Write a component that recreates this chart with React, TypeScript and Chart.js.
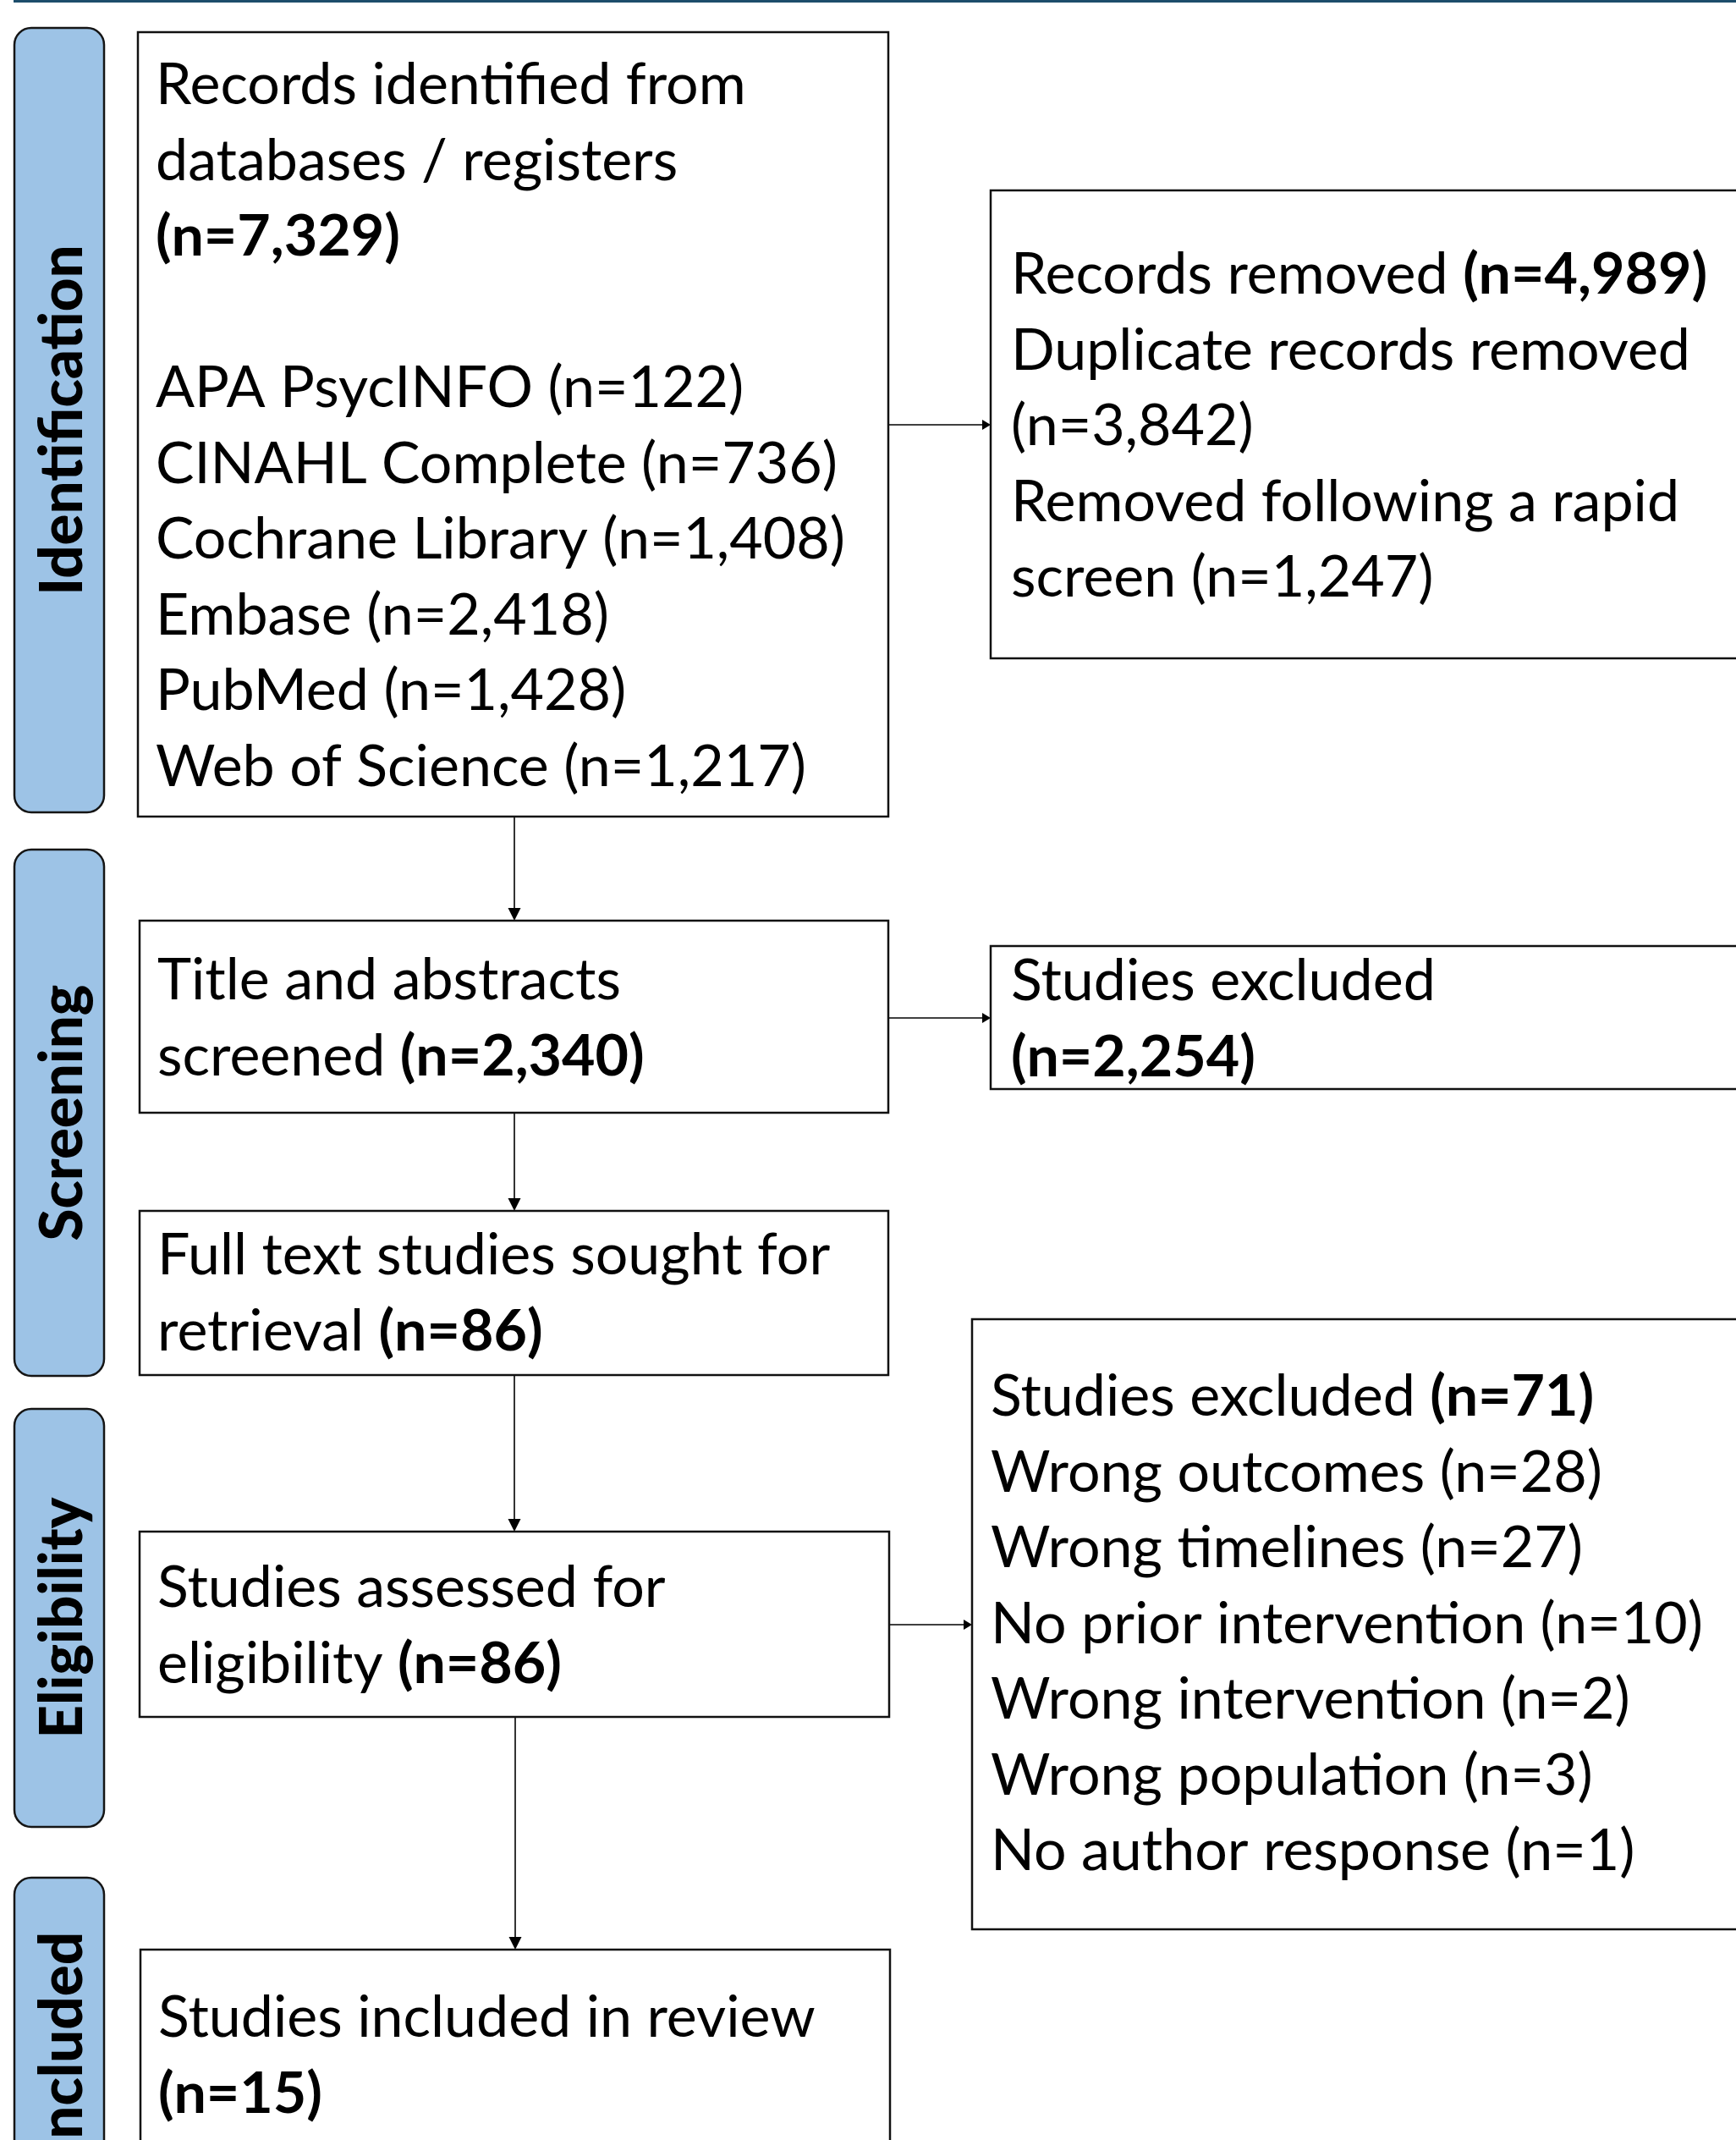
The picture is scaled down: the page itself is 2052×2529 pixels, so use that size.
import React, { useEffect, useRef } from 'react';
import { Chart, registerables } from 'chart.js';

Chart.register(...registerables);

// ---------- DATA ----------
const stageLabels = ['Identification', 'Screening', 'Eligibility', 'Included'];

const identifiedTotal = 7329;
const databaseNames = ['APA PsycINFO', 'CINAHL Complete', 'Cochrane Library', 'Embase', 'PubMed', 'Web of Science'];
const databaseCounts = [122, 736, 1408, 2418, 1428, 1217];

const removedTotal = 4989;
const removalCounts = [3842, 1247]; // duplicates, rapid screen

const screenedTotal = 2340;
const screenExcludedTotal = 2254;
const soughtTotal = 86;
const assessedTotal = 86;

const excludedTotal = 71;
const exclusionReasons = ['Wrong outcomes', 'Wrong timelines', 'No prior intervention', 'Wrong intervention', 'Wrong population', 'No author response'];
const exclusionCounts = [28, 27, 10, 2, 3, 1];

const includedTotal = 15;

// ---------- LAYOUT (diagram units = scale values) ----------
const W = 2052;
const H = 2529;

const fmt = (n: number) => n.toLocaleString('en-US');
type Seg = { t: string; b?: boolean };
type Line = Seg[];

const n = (v: number) => `(n=${fmt(v)})`;

const box1Lines: Line[] = [
  [{ t: 'Records identified from' }],
  [{ t: 'databases / registers' }],
  [{ t: n(identifiedTotal), b: true }],
  [],
  ...databaseNames.map((d, i) => [{ t: `${d} ${n(databaseCounts[i])}` }]),
];
const r1Lines: Line[] = [
  [{ t: 'Records removed ' }, { t: n(removedTotal), b: true }],
  [{ t: 'Duplicate records removed' }],
  [{ t: n(removalCounts[0]) }],
  [{ t: 'Removed following a rapid' }],
  [{ t: `screen ${n(removalCounts[1])}` }],
];
const box2Lines: Line[] = [
  [{ t: 'Title and abstracts' }],
  [{ t: 'screened ' }, { t: n(screenedTotal), b: true }],
];
const r2Lines: Line[] = [
  [{ t: 'Studies excluded' }],
  [{ t: n(screenExcludedTotal), b: true }],
];
const box3Lines: Line[] = [
  [{ t: 'Full text studies sought for' }],
  [{ t: 'retrieval ' }, { t: n(soughtTotal), b: true }],
];
const r3Lines: Line[] = [
  [{ t: 'Studies excluded ' }, { t: n(excludedTotal), b: true }],
  ...exclusionReasons.map((r, i) => [{ t: `${r} ${n(exclusionCounts[i])}` }]),
];
const box4Lines: Line[] = [
  [{ t: 'Studies assessed for' }],
  [{ t: 'eligibility ' }, { t: n(assessedTotal), b: true }],
];
const box5Lines: Line[] = [
  [{ t: 'Studies included in review' }],
  [{ t: n(includedTotal), b: true }],
];

const LINE_H = 89.5;

const boxes = [
  { x0: 163, x1: 1050, y0: 38, y1: 965, tx: 184, ty: 123, lines: box1Lines },
  { x0: 1171, x1: 2120, y0: 225, y1: 778, tx: 1195, ty: 347, lines: r1Lines },
  { x0: 165, x1: 1050, y0: 1088, y1: 1315, tx: 186, ty: 1181, lines: box2Lines },
  { x0: 1171, x1: 2120, y0: 1118, y1: 1287, tx: 1195, ty: 1182, lines: r2Lines },
  { x0: 165, x1: 1050, y0: 1431, y1: 1625, tx: 186, ty: 1506, lines: box3Lines },
  { x0: 1149, x1: 2120, y0: 1559, y1: 2280, tx: 1171, ty: 1673, lines: r3Lines },
  { x0: 165, x1: 1051, y0: 1810, y1: 2029, tx: 186, ty: 1899, lines: box4Lines },
  { x0: 166, x1: 1052, y0: 2304, y1: 2640, tx: 187, ty: 2407, lines: box5Lines },
];

const labelBoxes = [
  { y0: 33, y1: 960 },
  { y0: 1004, y1: 1626 },
  { y0: 1665, y1: 2159 },
  { y0: 2219, y1: 2660, endY: 2283 },
];

const vArrows = [
  { x: 608, y0: 965, y1: 1088 },
  { x: 608, y0: 1315, y1: 1431 },
  { x: 608, y0: 1625, y1: 1810 },
  { x: 609, y0: 2029, y1: 2304 },
];
const hArrows = [
  { y: 502, x0: 1050, x1: 1171 },
  { y: 1203, x0: 1050, x1: 1171 },
  { y: 1920, x0: 1050, x1: 1149 },
];

const TEXT_FONT = 'Lato, "Open Sans", sans-serif';

const flowPlugin = {
  id: 'flow',
  afterDraw(chart: any) {
    const ctx: CanvasRenderingContext2D = chart.ctx;
    const xs = chart.scales.x;
    const ys = chart.scales.y;
    const px = (v: number) => xs.getPixelForValue(v);
    const py = (v: number) => ys.getPixelForValue(v);

    ctx.save();
    // top rule
    ctx.fillStyle = '#1d4d6b';
    ctx.fillRect(px(16), py(0), px(W) - px(16), py(3) - py(0));

    // stage labels
    const lfont = `900 70px ${TEXT_FONT}`;
    ctx.font = lfont;
    const lsx = 303 / ctx.measureText('Screening').width;
    labelBoxes.forEach((lb, i) => {
      const x0 = px(17), x1 = px(123), y0 = py(lb.y0), y1 = py(lb.y1);
      const r = 20;
      ctx.beginPath();
      ctx.moveTo(x0 + r, y0);
      ctx.lineTo(x1 - r, y0);
      ctx.arcTo(x1, y0, x1, y0 + r, r);
      ctx.lineTo(x1, y1 - r);
      ctx.arcTo(x1, y1, x1 - r, y1, r);
      ctx.lineTo(x0 + r, y1);
      ctx.arcTo(x0, y1, x0, y1 - r, r);
      ctx.lineTo(x0, y0 + r);
      ctx.arcTo(x0, y0, x0 + r, y0, r);
      ctx.closePath();
      ctx.fillStyle = '#9dc3e6';
      ctx.fill();
      ctx.lineWidth = 2.5;
      ctx.strokeStyle = '#151515';
      ctx.stroke();

      ctx.save();
      ctx.font = lfont;
      ctx.fillStyle = '#000';
      ctx.textBaseline = 'alphabetic';
      if ((lb as any).endY !== undefined) {
        ctx.translate(px(97), py((lb as any).endY));
        ctx.rotate(-Math.PI / 2);
        ctx.scale(lsx, 1);
        ctx.textAlign = 'right';
      } else {
        ctx.translate(px(97), py((lb.y0 + lb.y1) / 2));
        ctx.rotate(-Math.PI / 2);
        ctx.scale(lsx, 1);
        ctx.textAlign = 'center';
      }
      ctx.fillText(stageLabels[i], 0, 0);
      ctx.restore();
    });

    // arrows
    ctx.strokeStyle = '#000';
    ctx.fillStyle = '#000';
    ctx.lineWidth = 1.6;
    const AH = 15, AW = 7.5;
    vArrows.forEach((a) => {
      const x = px(a.x), y0 = py(a.y0), y1 = py(a.y1);
      ctx.beginPath();
      ctx.moveTo(x, y0);
      ctx.lineTo(x, y1 - AH);
      ctx.stroke();
      ctx.beginPath();
      ctx.moveTo(x - AW, y1 - AH);
      ctx.lineTo(x + AW, y1 - AH);
      ctx.lineTo(x, y1);
      ctx.closePath();
      ctx.fill();
    });
    hArrows.forEach((a) => {
      const y = py(a.y), x0 = px(a.x0), x1 = px(a.x1);
      ctx.beginPath();
      ctx.moveTo(x0, y);
      ctx.lineTo(x1 - 10, y);
      ctx.stroke();
      ctx.beginPath();
      ctx.moveTo(x1 - 10, y - 6);
      ctx.lineTo(x1 - 10, y + 6);
      ctx.lineTo(x1, y);
      ctx.closePath();
      ctx.fill();
    });

    // boxes
    const regFont = `400 67px ${TEXT_FONT}`;
    const boldFont = `700 67px ${TEXT_FONT}`;
    ctx.font = regFont;
    const sx = 815 / ctx.measureText('Cochrane Library (n=1,408)').width;
    boxes.forEach((b) => {
      const x0 = px(b.x0), x1 = px(b.x1), y0 = py(b.y0), y1 = py(b.y1);
      ctx.fillStyle = '#fff';
      ctx.fillRect(x0, y0, x1 - x0, y1 - y0);
      ctx.lineWidth = 2.5;
      ctx.strokeStyle = '#111';
      ctx.strokeRect(x0, y0, x1 - x0, y1 - y0);

      ctx.fillStyle = '#000';
      ctx.textAlign = 'left';
      ctx.textBaseline = 'alphabetic';
      b.lines.forEach((line, li) => {
        let x = px(b.tx);
        const y = py(b.ty + li * LINE_H);
        line.forEach((seg) => {
          ctx.font = seg.b ? boldFont : regFont;
          const w = ctx.measureText(seg.t).width * sx;
          ctx.save();
          ctx.translate(x, y);
          ctx.scale(sx, 1);
          ctx.fillText(seg.t, 0, 0);
          ctx.restore();
          x += w;
        });
      });
    });
    ctx.restore();
  },
};

export default function App() {
  const ref = useRef<HTMLCanvasElement | null>(null);
  useEffect(() => {
    if (!ref.current) return;
    const chart = new Chart(ref.current, {
      type: 'scatter',
      data: { datasets: [] },
      options: {
        animation: false,
        responsive: false,
        devicePixelRatio: 1,
        layout: { padding: 0 },
        plugins: { legend: { display: false }, tooltip: { enabled: false } },
        scales: {
          x: { type: 'linear', min: 0, max: W, display: false },
          y: { type: 'linear', min: 0, max: H, reverse: true, display: false },
        },
      },
      plugins: [flowPlugin],
    });
    return () => chart.destroy();
  }, []);
  return (
    <div style={{ position: 'absolute', left: 0, top: 0, width: W, height: H, background: '#fff' }}>
      <canvas ref={ref} width={W} height={H} style={{ display: 'block' }} />
    </div>
  );
}
